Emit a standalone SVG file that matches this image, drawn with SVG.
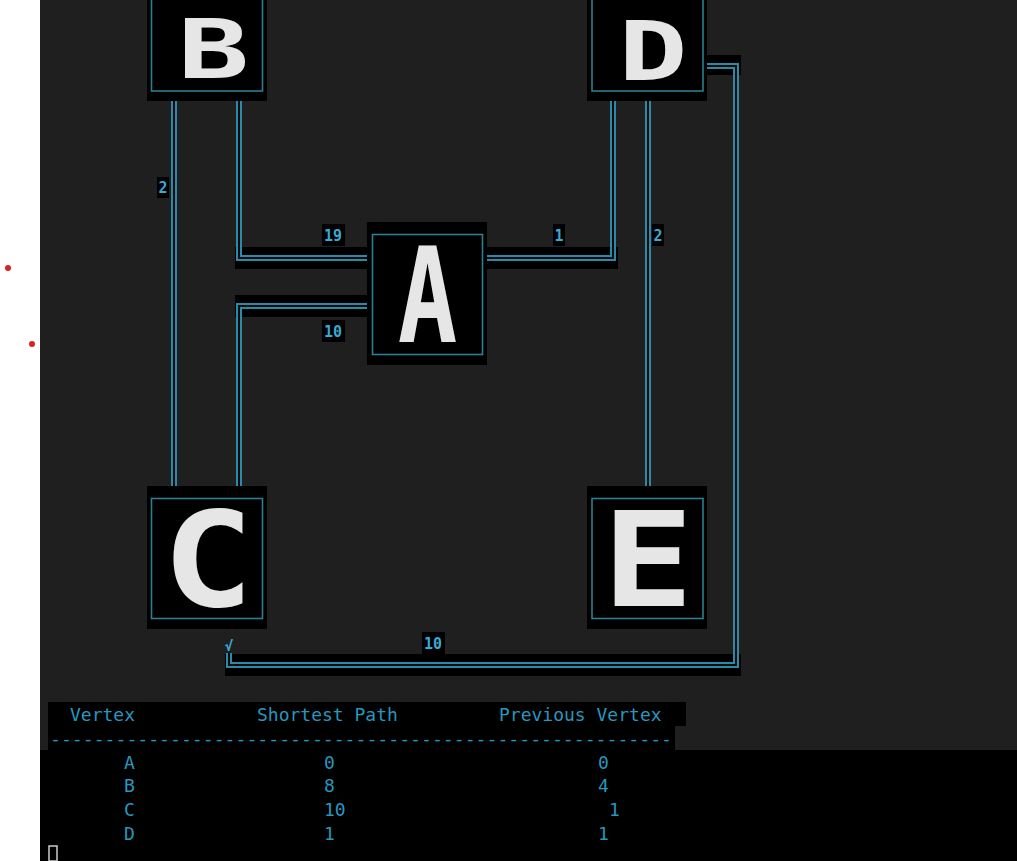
<svg xmlns="http://www.w3.org/2000/svg" width="1017" height="861" viewBox="0 0 1017 861">
<style>
.bg{fill:#1f1f1f}
.blk{fill:#000}
.outer{fill:#000}
.inner{fill:none;stroke:#2a7f93;stroke-width:1.6}
.letter{font-family:"DejaVu Sans Mono",monospace;font-weight:bold;font-size:132px;fill:#e6e6e6;text-anchor:middle}
.small{font-size:82px}
.w{fill:none;stroke:#2a8aa8;stroke-width:6;stroke-linejoin:miter}
.g{fill:none;stroke:#0b0b0b;stroke-width:2;stroke-linejoin:miter}
.lbl{font-family:"DejaVu Sans Mono",monospace;font-weight:bold;font-size:15px;fill:#3aa9d4;text-anchor:middle}
.tb{font-family:"DejaVu Sans Mono",monospace;font-size:18px;fill:#2797bf}
</style>
<rect x="0" y="0" width="40" height="861" fill="#ffffff"/>
<rect class="bg" x="40" y="0" width="977" height="750"/>
<rect class="blk" x="40" y="750" width="977" height="111"/>
<rect class="blk" x="48" y="702" width="638" height="24"/>
<rect class="blk" x="48" y="726" width="627" height="24"/>
<circle cx="8" cy="268" r="3" fill="#d62222"/>
<circle cx="32" cy="344" r="3" fill="#d62222"/>

<g id="connectors">
  <rect class="blk" x="235" y="247" width="132" height="22"/>
  <rect class="blk" x="235" y="295" width="132" height="22"/>
  <rect class="blk" x="487" y="247" width="131" height="22"/>
  <rect class="blk" x="707" y="55" width="34" height="20"/>
  <rect class="blk" x="225" y="654" width="516" height="22"/>
  <path class="w" d="M174,101 V486"/><path class="g" d="M174,101 V486"/>
  <path class="w" d="M239,101 V258 H367"/><path class="g" d="M239,101 V258 H367"/>
  <path class="w" d="M239,486 V306 H367"/><path class="g" d="M239,486 V306 H367"/>
  <path class="w" d="M487,258 H613 V101"/><path class="g" d="M487,258 H613 V101"/>
  <path class="w" d="M648,101 V486"/><path class="g" d="M648,101 V486"/>
  <path class="w" d="M707,66 H736 V665 H229 V653"/><path class="g" d="M707,66 H736 V665 H229 V653"/>
  <rect class="blk" x="157" y="177" width="12" height="21"/>
  <text class="lbl" x="163" y="193">2</text>
  <rect class="blk" x="322" y="224" width="23" height="22"/>
  <text class="lbl" x="333" y="241">19</text>
  <rect class="blk" x="322" y="320" width="23" height="22"/>
  <text class="lbl" x="333" y="337">10</text>
  <rect class="blk" x="553" y="224" width="12" height="22"/>
  <text class="lbl" x="559" y="241">1</text>
  <rect class="blk" x="652" y="224" width="12" height="22"/>
  <text class="lbl" x="658" y="241">2</text>
  <rect class="blk" x="422" y="632" width="23" height="22"/>
  <text class="lbl" x="433" y="649">10</text>
  <text class="lbl" x="229" y="651" style="font-size:14px">√</text>
</g>

<g id="node-B">
  <rect class="outer" x="147" y="-42" width="120" height="143"/>
  <rect class="inner" x="151.5" y="-30" width="111" height="121"/>
  <text class="letter small" transform="translate(213.5,78) scale(1.45,1)">B</text>
</g>
<g id="node-D">
  <rect class="outer" x="587" y="-42" width="120" height="143"/>
  <rect class="inner" x="592" y="-30" width="111" height="121"/>
  <text class="letter small" transform="translate(653,80) scale(1.4,1)">D</text>
</g>
<g id="node-A">
  <rect class="outer" x="367" y="222" width="120" height="143"/>
  <rect class="inner" x="372.5" y="234.5" width="110" height="120"/>
  <text class="letter" transform="translate(427.5,342) scale(0.75,1)">A</text>
</g>
<g id="node-C">
  <rect class="outer" x="147" y="486" width="120" height="143"/>
  <rect class="inner" x="151.5" y="498.5" width="111" height="120"/>
  <text class="letter" transform="translate(208,606) scale(1.15,1)">C</text>
</g>
<g id="node-E">
  <rect class="outer" x="587" y="486" width="120" height="143"/>
  <rect class="inner" x="592" y="498.5" width="111" height="120"/>
  <text class="letter" transform="translate(648,606) scale(1.15,1)">E</text>
</g>

<g id="table">
  <text class="tb" x="70" y="721">Vertex</text>
  <text class="tb" x="257" y="721">Shortest Path</text>
  <text class="tb" x="499" y="721">Previous Vertex</text>
  <text class="tb" x="50" y="745" textLength="622" lengthAdjust="spacingAndGlyphs">---------------------------------------------------------</text>
  <text class="tb" x="124" y="769">A</text><text class="tb" x="324" y="769">0</text><text class="tb" x="598" y="769">0</text>
  <text class="tb" x="124" y="792">B</text><text class="tb" x="324" y="792">8</text><text class="tb" x="598" y="792">4</text>
  <text class="tb" x="124" y="816">C</text><text class="tb" x="324" y="816">10</text><text class="tb" x="609" y="816">1</text>
  <text class="tb" x="124" y="840">D</text><text class="tb" x="324" y="840">1</text><text class="tb" x="598" y="840">1</text>
  <rect x="49" y="846" width="8" height="15" fill="none" stroke="#cccccc" stroke-width="1.5"/>
</g>
</svg>
